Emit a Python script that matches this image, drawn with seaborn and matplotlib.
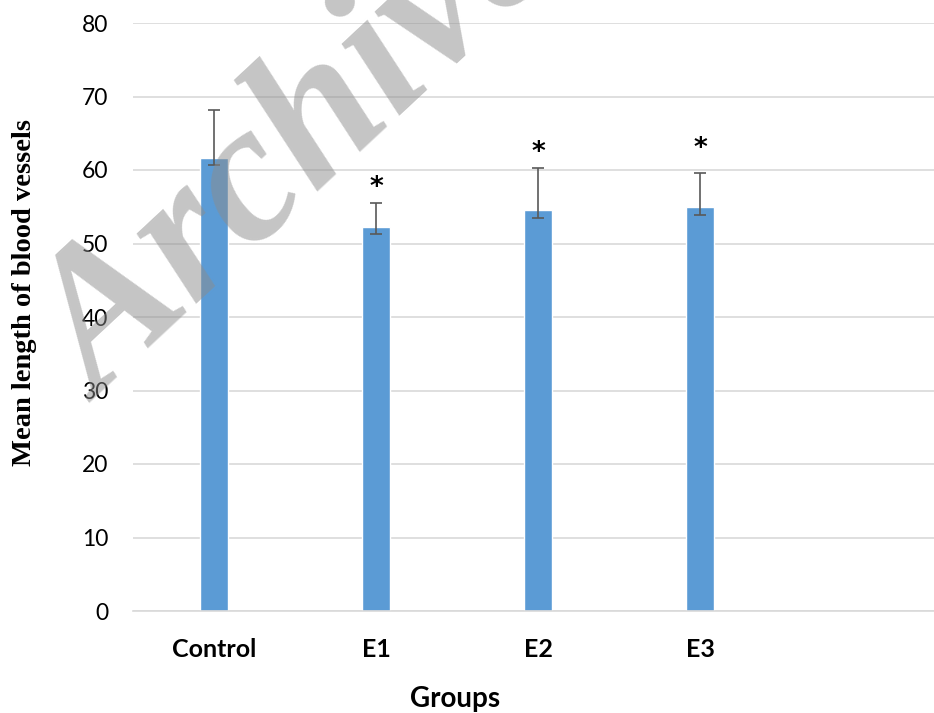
import numpy as np
import pandas as pd
import matplotlib
matplotlib.use('Agg')
import matplotlib.pyplot as plt
import matplotlib.transforms as mtransforms
import seaborn as sns

# values
groups = ['Control', 'E1', 'E2', 'E3']
mean_length = [61.7, 52.2, 54.5, 54.9]
err_low = [1.0, 0.95, 1.0, 1.0]
err_high = [6.5, 3.35, 5.8, 4.7]
star_y = [None, 58.7, 63.5, 64.0]
y_ticks = [0, 10, 20, 30, 40, 50, 60, 70, 80]

bar_color = '#5B9BD5'
grid_color = '#D9D9D9'
err_color = '#595959'

sns.set_theme(style='white')
plt.rcParams['font.family'] = ['Lato', 'DejaVu Sans']

df = pd.DataFrame({'group': groups, 'length': mean_length})

fig = plt.figure(figsize=(9.34, 7.13), dpi=100)
ax = fig.add_axes([133 / 934, 102 / 713, 810 / 934, 588 / 713])

sns.barplot(data=df, x='group', y='length', order=groups, color=bar_color,
            saturation=1, width=0.167, errorbar=None, ax=ax, zorder=2)

ax.errorbar(np.arange(len(groups)), mean_length, yerr=[err_low, err_high],
            fmt='none', ecolor=err_color, elinewidth=1.2, capsize=4.3,
            capthick=1.2, zorder=3)

# significance stars
star_tr = mtransforms.offset_copy(ax.transData, fig=fig, y=-0.586 * 19, units='points')
for i, sy in enumerate(star_y):
    if sy is None:
        continue
    ax.text(i, sy, '*', ha='center', va='baseline', fontsize=19,
            fontweight='bold', family='DejaVu Sans', color='black',
            transform=star_tr, zorder=4)

# axes styling (Excel look, one empty category slot on the right)
ax.set_xlim(-0.5, 4.5)
ax.set_ylim(0, 80)
ax.set_yticks(y_ticks)
ax.set_xticks(range(len(groups)))
ax.set_xticklabels(groups, fontsize=18, fontweight='bold', color='black')
ax.set_xticks(np.arange(-0.5, 5.0, 1.0), minor=True)
ax.tick_params(axis='y', length=0, pad=18, labelsize=16.5, labelcolor='black')
ax.tick_params(axis='x', which='major', length=0, pad=19.5)
ax.tick_params(axis='x', which='minor', direction='in', length=5.8,
               width=1.1, color=grid_color)

ax.yaxis.grid(True, color=grid_color, linewidth=1.2)
ax.xaxis.grid(False)
ax.set_axisbelow(True)
for side in ['top', 'right', 'left']:
    ax.spines[side].set_visible(False)
ax.spines['bottom'].set_color(grid_color)
ax.spines['bottom'].set_linewidth(1.2)

ax.set_xlabel('Groups', fontsize=20, fontweight='bold', color='black')
ax.xaxis.set_label_coords((455 - 133) / 810, (611 - 686) / 588)
ax.set_ylabel('Mean length of blood vessels', fontsize=20.5, fontweight='bold',
              family='Liberation Serif', color='black')
ax.yaxis.label.set_va('center')
ax.yaxis.set_label_coords((24.5 - 133) / 810, (611 - 292) / 588)

# watermark
fig.text(100 / 934, 1 - 404 / 713, 'Archive', family='Liberation Serif',
         fontweight='bold', style='italic', fontsize=143, color='#8C8C8C',
         alpha=0.5, rotation=43, rotation_mode='anchor', ha='left',
         va='baseline', zorder=10)

fig.savefig('out.png', dpi=100, facecolor='white')
